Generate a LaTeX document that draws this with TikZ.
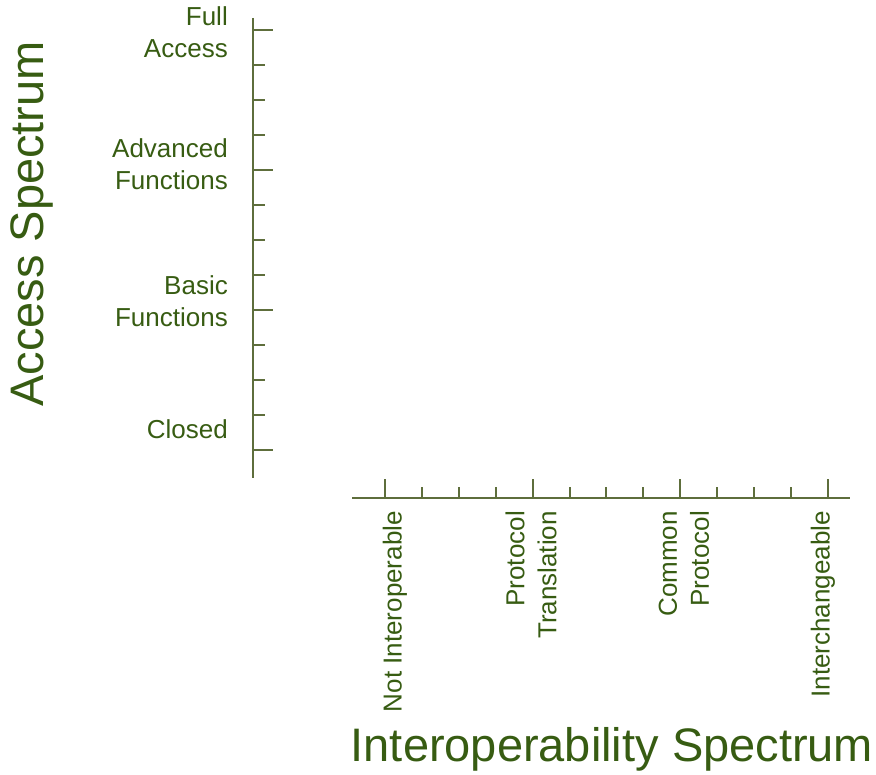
\documentclass[tikz,border=0pt]{standalone}
\usepackage{fontspec}
\setmainfont{Liberation Sans}
\usepackage{xcolor}
\usetikzlibrary{positioning}
\definecolor{labelgreen}{HTML}{375C12}
\definecolor{axisgreen}{HTML}{5E6E3C}

\begin{document}
\begin{tikzpicture}[x=1pt, y=-1pt,
    axisline/.style={draw=axisgreen, line width=2pt},
    ticklabel/.style={text=labelgreen, font=\fontsize{26}{32}\selectfont, inner sep=0pt},
    axistitle/.style={text=labelgreen, font=\fontsize{47}{56}\selectfont, inner sep=0pt}]
  \useasboundingbox (0,0) rectangle (876,775);

  % access axis (vertical)
  \coordinate (accTop) at (253,18);
  \coordinate (accBot) at (253,478);
  \draw[axisline] (accTop) -- (accBot);
  \foreach \k in {0,...,12}{
    \pgfmathtruncatemacro{\major}{mod(\k,4)==0 ? 1 : 0}
    \ifnum\major=1
      \draw[axisline] (253,30+35*\k) -- ++(20,0);
    \else
      \draw[axisline] (253,30+35*\k) -- ++(12,0);
    \fi
  }
  \node[ticklabel, anchor=east, align=right] (fullAccess) at (228,32) {Full\\Access};
  \node[ticklabel, anchor=east, align=right] (advFunctions) at (228,164) {Advanced\\Functions};
  \node[ticklabel, anchor=east, align=right] (basicFunctions) at (228,301) {Basic\\Functions};
  \node[ticklabel, anchor=east, align=right] (closed) at (228,429) {Closed};
  \node[axistitle, rotate=90, anchor=base] (accTitle) at (43,224) {Access Spectrum};

  % interoperability axis (horizontal)
  \coordinate (intLeft) at (352,498);
  \coordinate (intRight) at (850,498);
  \draw[axisline] (intLeft) -- (intRight);
  \foreach \k in {0,...,12}{
    \pgfmathtruncatemacro{\major}{mod(\k,4)==0 ? 1 : 0}
    \ifnum\major=1
      \draw[axisline] (385+36.9*\k,498) -- ++(0,-19);
    \else
      \draw[axisline] (385+36.9*\k,498) -- ++(0,-11);
    \fi
  }
  \node[ticklabel, rotate=90, anchor=east, align=right] (notInterop) at (395,511) {Not Interoperable};
  \node[ticklabel, rotate=90, anchor=east, align=right] (protTrans) at (531,511) {Protocol\\Translation};
  \node[ticklabel, rotate=90, anchor=east, align=right] (commonProt) at (684,511) {Common\\Protocol};
  \node[ticklabel, rotate=90, anchor=east, align=right] (interchange) at (823,511) {Interchangeable};
  \node[axistitle, anchor=base] (intTitle) at (612,761) {Interoperability Spectrum};
\end{tikzpicture}
\end{document}
